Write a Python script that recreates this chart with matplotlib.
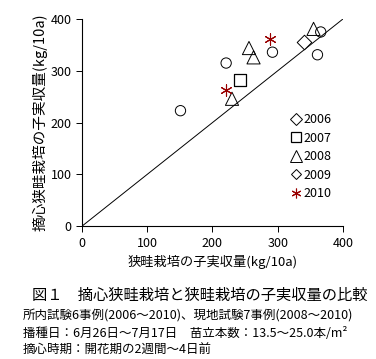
import matplotlib
matplotlib.use("Agg")
import matplotlib.pyplot as plt
from matplotlib.lines import Line2D

plt.rcParams["font.family"] = ["Noto Sans CJK JP", "DejaVu Sans"]

# 年ごとのデータ (狭畦栽培, 摘心狭畦栽培) kg/10a
x_2006 = [340]
y_2006 = [355]
x_2007 = [243]
y_2007 = [282]
x_2008 = [355, 256, 263, 230]
y_2008 = [381, 344, 326, 246]
x_2009 = [366, 361, 292, 221, 151]
y_2009 = [375, 331, 336, 315, 223]
x_2010 = [288, 221]
y_2010 = [361, 262]
ticks = [0, 100, 200, 300, 400]

dark_red = "#990000"

fig = plt.figure(figsize=(3.76, 3.59), dpi=100)
ax = fig.add_axes([0.218, 0.370, 0.694, 0.577])

ax.plot([0, 400], [0, 400], color="black", lw=0.7)
ax.scatter(x_2006, y_2006, marker="D", s=55, facecolors="white", edgecolors="black", linewidths=0.7, zorder=3)
ax.scatter(x_2007, y_2007, marker="s", s=65, facecolors="white", edgecolors="black", linewidths=0.9, zorder=3)
ax.scatter(x_2008, y_2008, marker="^", s=90, facecolors="none", edgecolors="black", linewidths=0.7, zorder=3)
ax.scatter(x_2009, y_2009, marker="o", s=55, facecolors="none", edgecolors="black", linewidths=0.7, zorder=3)
ax.scatter(x_2010, y_2010, marker=(6, 2, 0), s=65, color=dark_red, linewidths=0.8, zorder=3)

ax.set_xlim(0, 400); ax.set_ylim(0, 400)
ax.set_xticks(ticks); ax.set_yticks(ticks)
ax.tick_params(labelsize=9, length=4, width=0.7, direction="out")
ax.spines["top"].set_visible(False); ax.spines["right"].set_visible(False)
ax.set_xlabel("狭畦栽培の子実収量(kg/10a)", fontsize=9.5, labelpad=4)
ax.set_ylabel("摘心狭畦栽培の子実収量(kg/10a)", fontsize=10.5, labelpad=2)

handles = [
    Line2D([], [], ls="", marker="D", ms=6, mfc="white", mec="black", mew=0.7),
    Line2D([], [], ls="", marker="s", ms=7, mfc="white", mec="black", mew=0.9),
    Line2D([], [], ls="", marker="^", ms=8, mfc="white", mec="black", mew=0.7),
    Line2D([], [], ls="", marker="D", ms=5, mfc="white", mec="black", mew=0.7),
    Line2D([], [], ls="", marker=(6, 2, 0), ms=7, color=dark_red, mew=0.8),
]
ax.legend(handles, ["2006", "2007", "2008", "2009", "2010"], loc="lower right",
          bbox_to_anchor=(1.0, 0.07), frameon=False, fontsize=9, handlelength=0.8,
          handletextpad=0.2, labelspacing=0.45)

fig.text(0.085, 0.178, "図１　摘心狭畦栽培と狭畦栽培の子実収量の比較", fontsize=11, va="center")
fig.text(0.06, 0.120, "所内試験6事例(2006～2010)、現地試験7事例(2008～2010)", fontsize=9, va="center")
fig.text(0.06, 0.072, "播種日：6月26日～7月17日　苗立本数：13.5～25.0本/m²", fontsize=9, va="center")
fig.text(0.06, 0.025, "摘心時期：開花期の2週間～4日前", fontsize=9, va="center")

fig.savefig("out.png", dpi=100)
